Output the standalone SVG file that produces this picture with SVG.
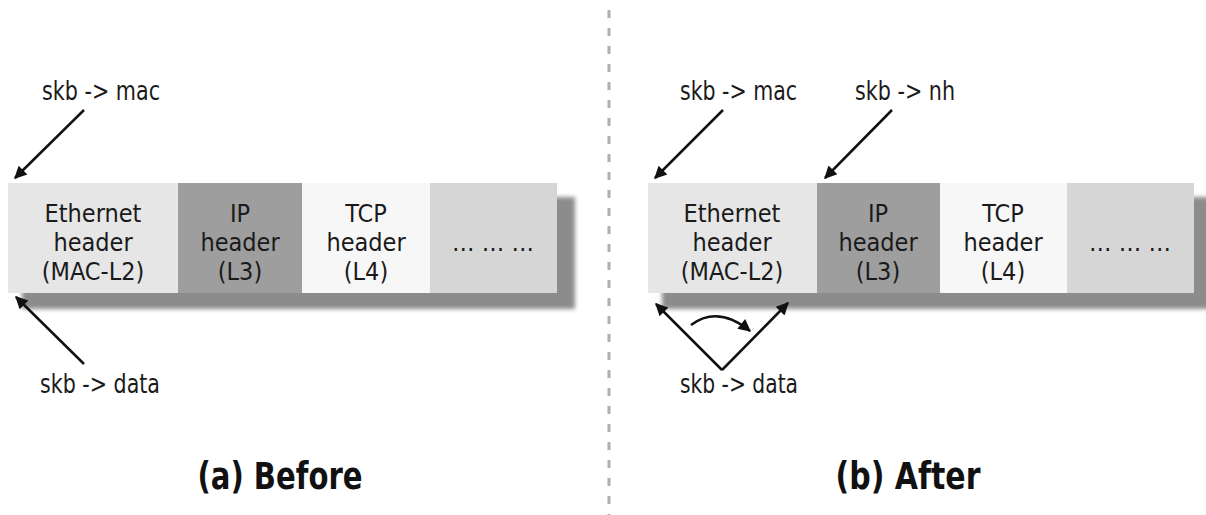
<svg xmlns="http://www.w3.org/2000/svg" width="1206" height="515" viewBox="0 0 1206 515">
<defs>
<style>
.t{font-family:"Liberation Sans Narrow","DejaVu Sans Condensed","Liberation Sans",sans-serif;font-size:25px;fill:#1a1a1a;text-anchor:middle}
.ptr{font-family:"Liberation Sans Narrow","DejaVu Sans Condensed","Liberation Sans",sans-serif;font-size:26px;fill:#1a1a1a}
.cap{font-family:"Liberation Sans Narrow","DejaVu Sans Condensed","Liberation Sans",sans-serif;font-size:37px;font-weight:bold;fill:#111;text-anchor:middle}
.ln{stroke:#111;stroke-width:2.5;fill:none}
.eth{fill:#e6e6e6}.ip{fill:#9e9e9e}.tcp{fill:#f7f7f7}.dots{fill:#d6d6d6}
.sh{fill:#8c8c8c;filter:url(#blur)}
</style>
<filter id="blur" x="-5%" y="-20%" width="110%" height="140%"><feGaussianBlur stdDeviation="2"/></filter>
<marker id="ah" viewBox="0 0 10 10" refX="9" refY="5" markerWidth="7" markerHeight="5" markerUnits="strokeWidth" orient="auto"><path d="M0,0 L10,5 L0,10 z" fill="#111"/></marker>
</defs>
<rect width="1206" height="515" fill="#fff"/>
<line x1="609" y1="10" x2="609" y2="515" stroke="#b0b0b0" stroke-width="3" stroke-dasharray="8,10"/>

<g id="panelA">
<rect class="sh" x="22" y="197" width="553" height="112"/>
<g id="a-eth"><rect class="eth" x="8" y="183" width="170" height="110"/>
<text class="t" x="93" y="222">Ethernet</text><text class="t" x="93" y="251">header</text><text class="t" x="93" y="280">(MAC-L2)</text></g>
<g id="a-ip"><rect class="ip" x="178" y="183" width="124" height="110"/>
<text class="t" x="240" y="222">IP</text><text class="t" x="240" y="251">header</text><text class="t" x="240" y="280">(L3)</text></g>
<g id="a-tcp"><rect class="tcp" x="302" y="183" width="128" height="110"/>
<text class="t" x="366" y="222">TCP</text><text class="t" x="366" y="251">header</text><text class="t" x="366" y="280">(L4)</text></g>
<g id="a-dots"><rect class="dots" x="430" y="183" width="127" height="110"/>
<text class="t" x="493" y="251">… … …</text></g>
<g id="a-mac"><text class="ptr" x="42" y="100" textLength="118" lengthAdjust="spacingAndGlyphs">skb -&gt; mac</text></g>
<g id="a-data"><text class="ptr" x="40" y="393" textLength="120" lengthAdjust="spacingAndGlyphs">skb -&gt; data</text></g>
<text class="cap" x="280" y="489" textLength="165" lengthAdjust="spacingAndGlyphs">(a) Before</text>
</g>

<g id="panelB">
<rect class="sh" x="662" y="197" width="560" height="112"/>
<g id="b-eth"><rect class="eth" x="648" y="183" width="169" height="110"/>
<text class="t" x="732" y="222">Ethernet</text><text class="t" x="732" y="251">header</text><text class="t" x="732" y="280">(MAC-L2)</text></g>
<g id="b-ip"><rect class="ip" x="817" y="183" width="123" height="110"/>
<text class="t" x="878" y="222">IP</text><text class="t" x="878" y="251">header</text><text class="t" x="878" y="280">(L3)</text></g>
<g id="b-tcp"><rect class="tcp" x="940" y="183" width="127" height="110"/>
<text class="t" x="1003" y="222">TCP</text><text class="t" x="1003" y="251">header</text><text class="t" x="1003" y="280">(L4)</text></g>
<g id="b-dots"><rect class="dots" x="1067" y="183" width="127" height="110"/>
<text class="t" x="1130" y="251">… … …</text></g>
<g id="b-mac"><text class="ptr" x="680" y="100" textLength="117" lengthAdjust="spacingAndGlyphs">skb -&gt; mac</text></g>
<g id="b-nh"><text class="ptr" x="855" y="100" textLength="100" lengthAdjust="spacingAndGlyphs">skb -&gt; nh</text></g>
<g id="b-data"><text class="ptr" x="680" y="393" textLength="118" lengthAdjust="spacingAndGlyphs">skb -&gt; data</text></g>
<text class="cap" x="908" y="489" textLength="145" lengthAdjust="spacingAndGlyphs">(b) After</text>
</g>

<g id="connectors">
<line class="ln" x1="84" y1="110" x2="15" y2="178" marker-end="url(#ah)"/>
<line class="ln" x1="84" y1="364" x2="16" y2="297" marker-end="url(#ah)"/>
<line class="ln" x1="723" y1="110" x2="655" y2="178" marker-end="url(#ah)"/>
<line class="ln" x1="892" y1="110" x2="825" y2="178" marker-end="url(#ah)"/>
<line class="ln" x1="722" y1="370" x2="656" y2="304" marker-end="url(#ah)"/>
<line class="ln" x1="722" y1="370" x2="788" y2="303" marker-end="url(#ah)"/>
<path class="ln" d="M691,325 Q718,305 750,331" marker-end="url(#ah)"/>
</g>
</svg>
